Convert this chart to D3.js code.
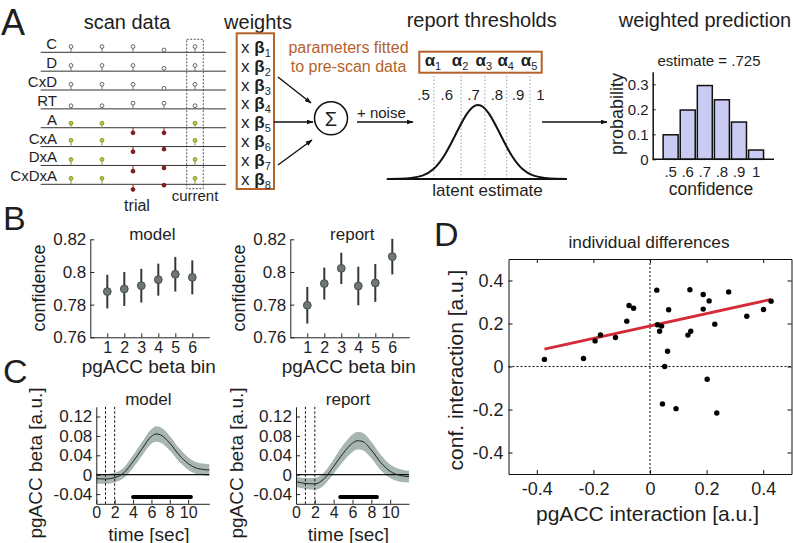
<!DOCTYPE html>
<html><head><meta charset="utf-8">
<script src="https://cdn.jsdelivr.net/npm/d3@7"></script>
<style>
body{margin:0;background:#fff;}
svg{display:block;font-family:"Liberation Sans",Arial,Helvetica,sans-serif;}
</style></head><body>
<svg id="fig" width="793" height="543"></svg>
<script>
// ---------------- DATA ----------------
// Panel A: scan data (stem heights, arbitrary units)
const scanRows = ["C","D","CxD","RT","A","CxA","DxA","CxDxA"];
const scanTrials = [1,2,3,4,5];
const scanC     = [1,1,1,0.4,1];
const scanD     = [1,1,1,0.5,1];
const scanCxD   = [1,1,1,0.3,1];
const scanRT    = [0.55,0.55,1,1,0.55];
const scanA     = [0.8,0.8,-0.9,-0.9,0.8];
const scanCxA   = [1.1,1.1,-0.9,-0.45,1.1];
const scanDxA   = [1.05,1.05,-1,-0.45,1.05];
const scanCxDxA = [1.05,1.05,-0.9,-0.15,1.05];
const weightSubs = ["1","2","3","4","5","6","7","8"];
const alphaSubs = ["1","2","3","4","5"];
const thresholdPos = [-1.98,-0.76,0.31,1.29,2.34];      // latent units
const confLabels = [".5",".6",".7",".8",".9","1"];
const confLabelPos = [-2.45,-1.4,-0.2,0.85,1.8,2.8];    // latent units
const latentX = [-4,-3.5,-3,-2.5,-2,-1.5,-1,-0.5,0,0.5,1,1.5,2,2.5,3,3.5,4];
const latentDensity = [0,0.005,0.015,0.045,0.135,0.325,0.605,0.88,1,0.88,0.605,0.325,0.135,0.045,0.015,0.005,0];
const histCats = [".5",".6",".7",".8",".9","1"];
const histProb = [0.098,0.197,0.295,0.238,0.149,0.037];
const histTicks = [0,0.1,0.2,0.3];
const histTickLabels = ["0","0.1","0.2","0.3"];

// Panel B
const bins = [1,2,3,4,5,6];
const binLabels = ["1","2","3","4","5","6"];
const modelMean = [0.788,0.7896,0.7916,0.7953,0.7986,0.7967];
const modelErr  = [0.0103,0.0104,0.0103,0.0098,0.0106,0.0104];
const reportMean = [0.7796,0.7929,0.8022,0.7914,0.7933,0.8094];
const reportErr  = [0.0112,0.0098,0.0096,0.0118,0.0116,0.0109];
const bTicks = [0.76,0.78,0.8,0.82];
const bTickLabels = ["0.76","0.78","0.8","0.82"];

// Panel C
const modelTime = [0,1,2,3,4,5,6,6.5,7,8,9,10,11,12.3];
const modelBeta = [-0.008,-0.009,-0.006,0.004,0.027,0.054,0.079,0.084,0.082,0.065,0.041,0.023,0.013,0.0097];
const modelSem  = [0.01,0.01,0.01,0.011,0.013,0.014,0.015,0.016,0.016,0.015,0.014,0.013,0.012,0.012];
const reportTime = [0,1,2,3,4,5,6,6.5,7,8,9,10,11,12];
const reportBeta = [-0.0145,-0.018,-0.019,-0.008,0.017,0.044,0.065,0.070,0.069,0.051,0.025,0.007,-0.0014,-0.004];
const reportSem  = [0.011,0.011,0.012,0.013,0.015,0.017,0.018,0.018,0.018,0.017,0.016,0.014,0.013,0.012];
const modelSig = [4,10.3];
const reportSig = [4.7,8.6];
const sigLevel = -0.046;
const eventTimes = [1,2];
const cYTicks = [-0.04,0,0.04,0.08,0.12];
const cYTickLabels = ["-0.04","0","0.04","0.08","0.12"];
const cXTicks = [0,2,4,6,8,10];
const cXTickLabels = ["0","2","4","6","8","10"];

// Panel D
const dX = [-0.373,-0.235,-0.194,-0.175,-0.122,-0.082,-0.074,-0.058,0.024,0.026,0.041,0.034,0.066,0.062,0.052,0.141,0.134,0.144,0.188,0.209,0.188,0.229,0.278,0.342,0.401,0.428,0.202,0.044,0.092,0.236];
const dY = [0.033,0.037,0.119,0.147,0.135,0.211,0.284,0.271,0.355,0.194,0.188,0.164,0.264,0.071,0.0,0.357,0.146,0.164,0.335,0.305,0.267,0.197,0.347,0.234,0.265,0.304,-0.059,-0.174,-0.196,-0.216];
const fitX = [-0.373,0.428];
const fitY = [0.081,0.312];
const dTicks = [-0.4,-0.2,0,0.2,0.4];
const dTickLabels = ["-0.4","-0.2","0","0.2","0.4"];

// ---------------- DRAWING ----------------
const INK = "#1e1e1e";
const BROWN = "#b5622a";
const svg = d3.select("#fig");

svg.append("defs").append("marker")
  .attr("id","arr").attr("viewBox","0 0 10 10").attr("refX",9).attr("refY",5)
  .attr("markerWidth",7).attr("markerHeight",7).attr("orient","auto-start-reverse")
  .attr("markerUnits","userSpaceOnUse")
  .append("path").attr("d","M0,1.5L10,5L0,8.5z").attr("fill","#111");

function text(x,y,s,size,anchor="middle",opt={}){
  const t = svg.append("text").attr("x",x).attr("y",y).attr("font-size",size)
    .attr("text-anchor",anchor).attr("fill",opt.fill||INK).text(s);
  if(opt.rotate) t.attr("transform",`rotate(-90,${x},${y})`);
  if(opt.weight) t.attr("font-weight",opt.weight);
  return t;
}
function styleAxis(g, size, color="#222"){
  g.selectAll("path.domain").attr("stroke",color).attr("stroke-width",1);
  g.selectAll(".tick line").attr("stroke",color).attr("stroke-width",1);
  g.selectAll(".tick text").attr("font-size",size).attr("fill",INK)
    .attr("font-family",'"Liberation Sans",Arial,Helvetica,sans-serif');
}

// Panel letters
text(1,35,"A",36,"start");
text(3,230,"B",34,"start");
text(3,383,"C",34,"start");
text(434,246,"D",34,"start");

// ---- Panel A: scan data ----
text(127,29,"scan data",20);
const rowY = d3.scalePoint().domain(scanRows).range([52.3,184.3]);
const colX = d3.scaleLinear().domain([1,5]).range([71,195]);
const stemY = d3.scaleLinear().domain([0,1]).range([0,-5.7]);
const scanTable = [scanC,scanD,scanCxD,scanRT,scanA,scanCxA,scanDxA,scanCxDxA];
svg.append("rect").attr("x",colX(5)-8.3).attr("y",39.3).attr("width",16.6).attr("height",149.4)
  .attr("fill","none").attr("stroke","#555").attr("stroke-width",1).attr("stroke-dasharray","2,1.5");
scanRows.forEach((r,i)=>{
  const y = rowY(r);
  svg.append("line").attr("x1",40.7).attr("x2",226).attr("y1",y).attr("y2",y)
    .attr("stroke","#333").attr("stroke-width",1);
  text(57,y-3,r,15,"end");
  scanTable[i].forEach((v,j)=>{
    const x = colX(scanTrials[j]);
    const yy = y + stemY(v);
    let fill="#fff", stroke="#555", stemC="#777";
    if(i>=4){ if(v>0){fill="#b8cc3c";stroke="#7f8f25";stemC="#8a9a40";} else {fill="#8e1e1e";stroke="#6a1212";stemC="#8e1e1e";} }
    svg.append("line").attr("x1",x).attr("x2",x).attr("y1",y).attr("y2",yy).attr("stroke",stemC).attr("stroke-width",1);
    svg.append("circle").attr("cx",x).attr("cy",yy).attr("r",1.9).attr("fill",fill).attr("stroke",stroke).attr("stroke-width",0.9);
  });
});
text(137,211,"trial",16);
text(195,201,"current",15);

// weights
text(258,29,"weights",20);
svg.append("rect").attr("x",236.7).attr("y",33.3).attr("width",37.3).attr("height",155.7)
  .attr("fill","none").attr("stroke",BROWN).attr("stroke-width",2);
weightSubs.forEach((s,i)=>{
  const t = svg.append("text").attr("x",241).attr("y",rowY(scanRows[i])+0.5).attr("font-size",17).attr("fill",INK);
  t.append("tspan").text("x ");
  t.append("tspan").attr("font-weight","bold").text("β");
  t.append("tspan").attr("font-size",11).attr("dy",4).text(s);
});
text(348.5,52.5,"parameters fitted",16,"middle",{fill:BROWN});
text(348.5,71.5,"to pre-scan data",16,"middle",{fill:BROWN});

// sigma
svg.append("circle").attr("cx",331).attr("cy",118.3).attr("r",16.5).attr("fill","none").attr("stroke","#111").attr("stroke-width",1.5);
text(331,125.5,"Σ",20);
const arrows = [[278,77,311,103],[274,122,313,122],[278,165,312,140],[357,122,413,122],[542,122,607,122]];
arrows.forEach(a=>{
  svg.append("line").attr("x1",a[0]).attr("y1",a[1]).attr("x2",a[2]).attr("y2",a[3])
    .attr("stroke","#111").attr("stroke-width",1.4).attr("marker-end","url(#arr)");
});
text(357,118,"+ noise",15,"start");

// report thresholds
text(481.7,27,"report thresholds",20);
const lat = d3.scaleLinear().domain([-4,4]).range([389,567]);
const dens = d3.scaleLinear().domain([0,1]).range([179,105]);
svg.append("rect").attr("x",419.3).attr("y",51.7).attr("width",122.4).attr("height",21)
  .attr("fill","none").attr("stroke",BROWN).attr("stroke-width",2);
thresholdPos.forEach((p,i)=>{
  svg.append("line").attr("x1",lat(p)).attr("x2",lat(p)).attr("y1",76).attr("y2",179)
    .attr("stroke","#8fa3ad").attr("stroke-width",1).attr("stroke-dasharray","1.5,2");
  const t = svg.append("text").attr("x",lat(p)-1).attr("y",66).attr("font-size",17)
    .attr("text-anchor","middle").attr("fill",INK);
  t.append("tspan").attr("font-weight","bold").text("α");
  t.append("tspan").attr("font-size",11).attr("dy",4).text(alphaSubs[i]);
});
confLabels.forEach((s,i)=>{ text(lat(confLabelPos[i]),100,s,15); });
svg.append("line").attr("x1",lat(-4.1)).attr("x2",lat(3.9)).attr("y1",179).attr("y2",179)
  .attr("stroke","#111").attr("stroke-width",2.2);
svg.append("path").datum(latentX.map((x,i)=>[x,latentDensity[i]]))
  .attr("d",d3.line().x(d=>lat(d[0])).y(d=>dens(d[1])).curve(d3.curveNatural))
  .attr("fill","none").attr("stroke","#111").attr("stroke-width",2);
text(487.5,196,"latent estimate",17);

// weighted prediction
text(705,27,"weighted prediction",20);
text(709,66,"estimate = .725",15);
const hx = d3.scaleLinear().domain([-1.05,6.05]).range([652.7,774]);
const hy = d3.scaleLinear().domain([0,0.35]).range([159.3,71.8]);
histProb.forEach((p,i)=>{
  svg.append("rect").attr("x",hx(i)-7.5).attr("y",hy(p)).attr("width",15).attr("height",hy(0)-hy(p))
    .attr("fill","#c9cbf2").attr("stroke","#111").attr("stroke-width",1.5);
});
const hyAxis = svg.append("g").attr("transform","translate(652.7,0)")
  .call(d3.axisLeft(hy).tickValues(histTicks).tickFormat((d,i)=>histTickLabels[i]).tickSize(-3).tickSizeOuter(0).tickPadding(4));
styleAxis(hyAxis,15,"#111");
hyAxis.select("path.domain").attr("stroke-width",1.5);
svg.append("line").attr("x1",652.7).attr("x2",774).attr("y1",159.3).attr("y2",159.3).attr("stroke","#111").attr("stroke-width",1.5);
histCats.forEach((c,i)=>text(hx(i),177,c,15));
text(711,195,"confidence",17.5);
text(623,114,"probability",18,"middle",{rotate:true});

// ---- Panel B ----
function panelB(x0,means,errs,title){
  const x = d3.scaleLinear().domain([0,7]).range([x0,x0+119]);
  const y = d3.scaleLinear().domain([0.76,0.82]).range([337.3,239.3]);
  const ya = svg.append("g").attr("transform",`translate(${x0},0)`)
    .call(d3.axisLeft(y).tickValues(bTicks).tickFormat((d,i)=>bTickLabels[i]).tickSize(-4).tickSizeOuter(0).tickPadding(4));
  styleAxis(ya,17);
  const xa = svg.append("g").attr("transform","translate(0,337.3)")
    .call(d3.axisBottom(x).tickValues(bins).tickFormat((d,i)=>binLabels[i]).tickSize(-4).tickSizeOuter(0).tickPadding(5));
  styleAxis(xa,16);
  xa.selectAll(".tick text").attr("dy","0.7em");
  bins.forEach((b,i)=>{
    svg.append("line").attr("x1",x(b)).attr("x2",x(b)).attr("y1",y(means[i]-errs[i])).attr("y2",y(means[i]+errs[i]))
      .attr("stroke","#333735").attr("stroke-width",2);
    svg.append("circle").attr("cx",x(b)).attr("cy",y(means[i])).attr("r",3.9)
      .attr("fill","#6e7773").attr("stroke","#474c4a").attr("stroke-width",1);
  });
  text(x0+62,240,title,17);
  text(x0-45,288,"confidence",18,"middle",{rotate:true});
  text(x0+58.5,373,"pgACC beta bin",19);
}
panelB(90.3,modelMean,modelErr,"model");
panelB(290.3,reportMean,reportErr,"report");

// ---- Panel C ----
function panelC(x0,xEnd,tMax,times,beta,sem,sig,title,ylabX){
  const x = d3.scaleLinear().domain([0,tMax]).range([x0,xEnd]);
  const y = d3.scaleLinear().domain([-0.06,0.14]).range([503.8,406.8]);
  const pts = times.map((t,i)=>({t,b:beta[i],s:sem[i]}));
  svg.append("path").datum(pts)
    .attr("d",d3.area().x(d=>x(d.t)).y0(d=>y(d.b-d.s)).y1(d=>y(d.b+d.s)).curve(d3.curveMonotoneX))
    .attr("fill","#a8b6b0");
  svg.append("line").attr("x1",x(0)).attr("x2",x(tMax)).attr("y1",y(0)).attr("y2",y(0)).attr("stroke","#111").attr("stroke-width",1.2);
  eventTimes.forEach(t=>{
    svg.append("line").attr("x1",x(t)).attr("x2",x(t)).attr("y1",y(0.14)).attr("y2",y(-0.06))
      .attr("stroke","#111").attr("stroke-width",1).attr("stroke-dasharray","2.5,2");
  });
  svg.append("path").datum(pts)
    .attr("d",d3.line().x(d=>x(d.t)).y(d=>y(d.b)).curve(d3.curveMonotoneX))
    .attr("fill","none").attr("stroke","#222").attr("stroke-width",1);
  svg.append("line").attr("x1",x(sig[0])).attr("x2",x(sig[1])).attr("y1",y(sigLevel)).attr("y2",y(sigLevel))
    .attr("stroke","#000").attr("stroke-width",4).attr("stroke-linecap","round");
  const ya = svg.append("g").attr("transform",`translate(${x0},0)`)
    .call(d3.axisLeft(y).tickValues(cYTicks).tickFormat((d,i)=>cYTickLabels[i]).tickSize(-4).tickSizeOuter(0).tickPadding(4));
  styleAxis(ya,17);
  const xa = svg.append("g").attr("transform","translate(0,503.8)")
    .call(d3.axisBottom(x).tickValues(cXTicks).tickFormat((d,i)=>cXTickLabels[i]).tickSize(-4).tickSizeOuter(0).tickPadding(3));
  styleAxis(xa,16);
  xa.selectAll(".tick text").attr("dy","0.7em");
  text(x0+52,405,title,17);
  text(ylabX,463,"pgACC beta [a.u.]",19,"middle",{rotate:true});
  text((x0+xEnd)/2-4,540.5,"time [sec]",19);
}
panelC(96.3,209.3,12.3,modelTime,modelBeta,modelSem,modelSig,"model",42);
panelC(296,409,12,reportTime,reportBeta,reportSem,reportSig,"report",243);

// ---- Panel D ----
const xD = d3.scaleLinear().domain([-0.5,0.5]).range([508.5,791.5]);
const yD = d3.scaleLinear().domain([-0.5,0.5]).range([474,259]);
text(649,248,"individual differences",17.3);
svg.append("line").attr("x1",xD(0)).attr("x2",xD(0)).attr("y1",yD(0.5)).attr("y2",yD(-0.5))
  .attr("stroke","#111").attr("stroke-width",1).attr("stroke-dasharray","2,2");
svg.append("line").attr("x1",xD(-0.5)).attr("x2",xD(0.5)).attr("y1",yD(0)).attr("y2",yD(0))
  .attr("stroke","#111").attr("stroke-width",1).attr("stroke-dasharray","2,2");
const dl = svg.append("g").attr("transform",`translate(${xD(-0.5)},0)`)
  .call(d3.axisLeft(yD).tickValues(dTicks).tickFormat((d,i)=>dTickLabels[i]).tickSize(-4).tickSizeOuter(0).tickPadding(5));
styleAxis(dl,18,"#111");
const dr = svg.append("g").attr("transform",`translate(${xD(0.5)},0)`)
  .call(d3.axisRight(yD).tickValues(dTicks).tickFormat("").tickSize(-4).tickSizeOuter(0));
styleAxis(dr,18,"#111");
const db = svg.append("g").attr("transform",`translate(0,${yD(-0.5)})`)
  .call(d3.axisBottom(xD).tickValues(dTicks).tickFormat((d,i)=>dTickLabels[i]).tickSize(-4).tickSizeOuter(0).tickPadding(8));
styleAxis(db,18,"#111");
const dt = svg.append("g").attr("transform",`translate(0,${yD(0.5)})`)
  .call(d3.axisTop(xD).tickValues(dTicks).tickFormat("").tickSize(-4).tickSizeOuter(0));
styleAxis(dt,18,"#111");
svg.append("path").datum(fitX.map((v,i)=>[v,fitY[i]]))
  .attr("d",d3.line().x(d=>xD(d[0])).y(d=>yD(d[1])))
  .attr("stroke","#d42a37").attr("stroke-width",2.8).attr("fill","none");
dX.forEach((v,i)=>{
  svg.append("circle").attr("cx",xD(v)).attr("cy",yD(dY[i])).attr("r",2.7).attr("fill","#000");
});
text(463,370,"conf. interaction [a.u.]",21,"middle",{rotate:true});
text(647.5,521,"pgACC interaction [a.u.]",21);
</script>
</body></html>
